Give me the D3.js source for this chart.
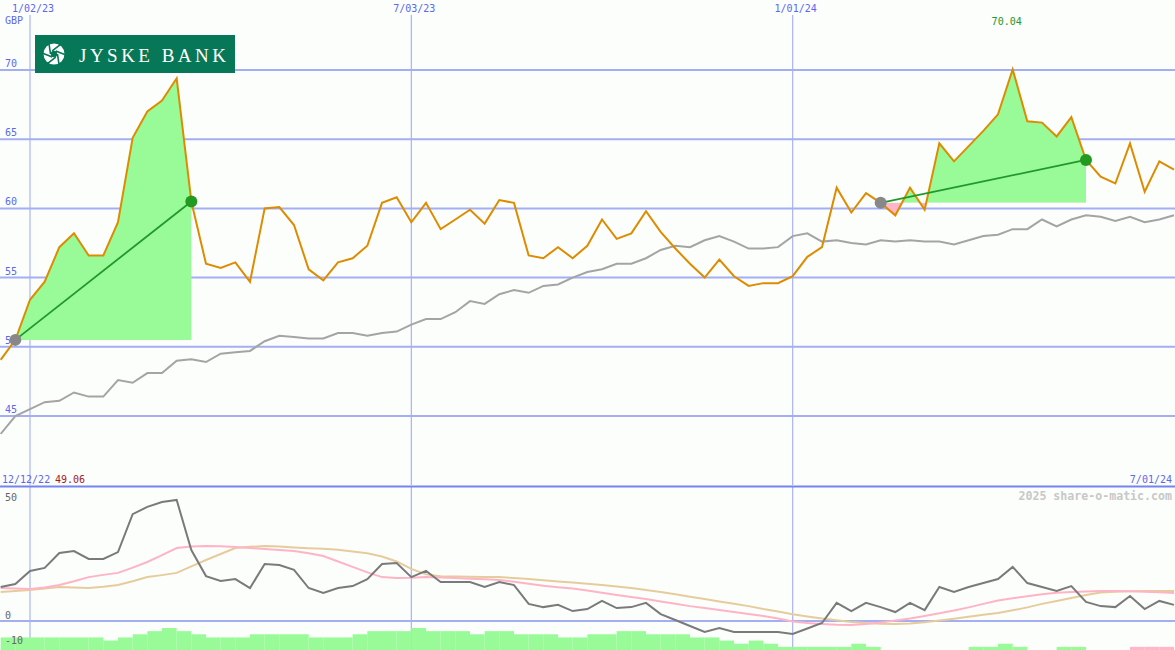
<!DOCTYPE html>
<html><head><meta charset="utf-8">
<script src="https://cdn.jsdelivr.net/npm/d3@7"></script>
<style>body{margin:0;background:#fcfefc;} svg{display:block}</style>
</head><body>
<svg id="c" width="1175" height="650"></svg>
<script>
// ---- data (weekly, from 19 Dec 2022 to 1 Jul 2024) ----
const startDate = Date.UTC(2022, 11, 19);
const endDate = Date.UTC(2024, 6, 2);
const closes = [49.06,50.5,53.4,54.7,57.2,58.2,56.6,56.6,59.0,65.1,67.0,67.8,69.4,60.5,56.0,55.7,56.1,54.7,60.0,60.1,
  58.8,55.6,54.8,56.1,56.4,57.3,60.4,60.8,59.0,60.4,58.5,59.2,59.9,58.9,60.6,60.4,56.6,56.4,57.2,56.4,
  57.3,59.2,57.8,58.2,59.8,58.3,57.1,56.0,55.0,56.3,55.1,54.4,54.6,54.6,55.1,56.5,57.2,61.5,59.7,61.1,
  60.4,59.5,61.5,59.9,64.7,63.4,64.5,65.6,66.8,70.04,66.3,66.2,65.2,66.6,63.5,62.3,61.8,64.7,61.2,63.4,62.8];
const movingAvg = [43.7,45.0,45.5,46.0,46.1,46.7,46.4,46.4,47.6,47.4,48.1,48.1,49.0,49.1,48.9,49.5,49.6,49.7,50.4,50.8,
  50.7,50.6,50.6,51.0,51.0,50.8,51.0,51.1,51.6,52.0,52.0,52.5,53.3,53.1,53.8,54.1,53.9,54.4,54.5,55.0,
  55.4,55.6,56.0,56.0,56.4,57.0,57.3,57.2,57.7,58.0,57.6,57.1,57.1,57.2,58.0,58.2,57.6,57.7,57.5,57.4,
  57.7,57.6,57.7,57.6,57.6,57.4,57.7,58.0,58.1,58.5,58.5,59.2,58.7,59.2,59.5,59.4,59.1,59.4,59.0,59.2,59.5];
const oscMain = [13.7,14.9,20.2,21.4,27.4,28.2,25.0,25.0,27.8,43.1,46.0,48.0,48.8,28.6,18.1,16.1,16.9,13.3,23.0,22.6,
  20.6,13.3,11.3,13.3,14.1,16.9,23.0,23.4,17.7,20.2,15.7,15.7,15.7,13.7,15.7,14.5,6.9,5.6,6.5,4.0,
  4.8,8.1,5.2,5.6,7.3,2.8,0.4,-2.0,-4.4,-2.8,-4.4,-4.4,-4.4,-4.4,-5.2,-3.0,-0.8,7.3,4.0,7.3,
  5.6,3.6,7.3,4.4,13.7,11.7,13.7,15.3,16.9,21.8,15.3,13.7,12.1,14.1,7.7,6.0,5.6,10.1,4.8,8.1,6.5];
const oscPink = [13.3,13.1,12.9,13.5,14.5,16.0,17.7,18.6,19.4,21.5,23.8,26.6,29.4,30.0,30.2,30.1,29.8,29.4,29.0,28.6,
  28.2,27.3,26.2,24.0,21.8,19.6,17.7,17.3,17.4,17.7,17.5,17.3,17.0,16.8,16.5,15.8,15.0,14.2,13.6,13.1,
  12.3,11.4,10.5,9.7,8.9,7.9,7.0,6.0,5.2,4.4,3.6,2.8,2.0,1.0,-0.2,-0.8,-1.2,-1.5,-1.6,-1.2,
  -0.6,0.2,1.0,2.0,3.1,4.2,5.5,6.9,8.3,9.2,10.0,10.8,11.4,11.7,11.9,12.1,12.1,12.0,11.8,11.6,11.3];
const oscTan = [11.7,12.1,12.5,13.1,13.7,13.5,13.3,13.8,14.5,16.0,17.7,18.5,19.4,22.0,24.6,27.0,29.4,29.9,30.2,30.0,
  29.6,29.3,29.1,28.7,28.0,27.3,26.0,24.0,21.0,18.8,18.0,17.9,17.8,17.7,17.7,17.3,16.9,16.4,15.9,15.5,
  15.0,14.5,13.9,13.3,12.5,11.7,10.8,9.8,8.9,7.9,7.0,6.0,4.8,3.8,2.7,1.8,1.0,0.3,-0.4,-0.8,
  -1.1,-1.2,-1.0,-0.5,0.2,0.9,1.7,2.5,3.2,4.3,5.5,6.9,8.1,9.3,10.5,11.5,11.8,12.0,12.1,12.1,12.1];
// histogram per week (sign: + green, - pink)
const histVals = [4,4,4,4,4,4,4,3,4,5,6,7,6,5,4,4,4,5,5,5,
  5,4,4,4,5,6,6,6,7,6,6,6,5,6,6,5,5,5,4,4,
  5,5,6,6,5,5,5,4,4,3,2,3,2,1,1,1,1,1,2,1,
  0,0,0,0,0,0,1,1,2,1,0,0,1,1,0,0,0,-1,-1,-1];
const periods = [[1,13],[60,74]];
const topTicks = [{d:Date.UTC(2023,0,2), label:"1/02/23"},{d:Date.UTC(2023,6,3), label:"7/03/23"},{d:Date.UTC(2024,0,1), label:"1/01/24"}];
const priceTicks = [45,50,55,60,65,70];
const oscTicks = [50,0,-10];
const startLabel = "12/12/22", endLabel = "7/01/24", firstClose = "49.06", peakLabel = "70.04";

// ---- chart ----
const dates = d3.utcMonday.range(startDate, endDate);
const W = 1175, H = 650;
const svg = d3.select("#c");
svg.append("rect").attr("width",W).attr("height",H).attr("fill","#fcfefc");

const x = d3.scaleUtc().domain([Date.UTC(2023,0,2), Date.UTC(2024,6,1)]).range([30, 1174]);
const y = d3.scaleLinear().domain([45,70]).range([416,70]);
const yl = d3.scaleLinear().domain([0,50]).range([621,497]);
const yh = d3.scaleLinear().domain([0,7]).range([650,628]);

const blue = "#5b68ee", grid = "#a4aef2", vgrid = "#aab3f3";
const mono = "DejaVu Sans Mono, monospace";

// vertical grid lines
topTicks.forEach(t => {
  svg.append("line").attr("x1",x(t.d)).attr("x2",x(t.d)).attr("y1",15).attr("y2",485)
    .attr("stroke",vgrid).attr("stroke-width",1.2);
  svg.append("line").attr("x1",x(t.d)).attr("x2",x(t.d)).attr("y1",487).attr("y2",650)
    .attr("stroke",vgrid).attr("stroke-width",1.2);
  svg.append("text").attr("x",x(t.d)+3).attr("y",12).attr("text-anchor","middle")
    .attr("font-family",mono).attr("font-size",10).attr("fill",blue).text(t.label);
});
// horizontal grid
priceTicks.forEach(v => {
  svg.append("line").attr("x1",0).attr("x2",W).attr("y1",y(v)).attr("y2",y(v))
    .attr("stroke",grid).attr("stroke-width",2);
  svg.append("text").attr("x",5).attr("y",y(v)-3).attr("font-family",mono).attr("font-size",10)
    .attr("fill",blue).text(v);
});
svg.append("text").attr("x",5).attr("y",24).attr("font-family",mono).attr("font-size",10).attr("fill",blue).text("GBP");

// divider
svg.append("line").attr("x1",0).attr("x2",W).attr("y1",486.5).attr("y2",486.5).attr("stroke","#7584ee").attr("stroke-width",2);
svg.append("text").attr("x",2).attr("y",483).attr("font-family",mono).attr("font-size",10).attr("fill",blue).text(startLabel);
svg.append("text").attr("x",55).attr("y",483).attr("font-family",mono).attr("font-size",10).attr("fill","#aa1818").text(firstClose);
svg.append("text").attr("x",1172).attr("y",483).attr("text-anchor","end").attr("font-family",mono).attr("font-size",10).attr("fill",blue).text(endLabel);
svg.append("text").attr("x",1172).attr("y",500).attr("text-anchor","end").attr("font-family",mono).attr("font-size",11.6)
  .attr("font-weight","bold").attr("fill","#c8c8c8").text("2025 share-o-matic.com");

// period fills
periods.forEach((p, k) => {
  const [a,b] = p;
  const base = y(closes[a]);
  const idx = d3.range(a, b+1);
  const area = d3.area().x(i => x(dates[i])).y0(base).y1(i => y(closes[i]));
  const ca = "ca"+k, cb = "cb"+k;
  const defs = svg.append("defs");
  defs.append("clipPath").attr("id",ca).append("rect").attr("x",0).attr("y",0).attr("width",W).attr("height",base);
  defs.append("clipPath").attr("id",cb).append("rect").attr("x",0).attr("y",base).attr("width",W).attr("height",H-base);
  svg.append("path").attr("d",area(idx)).attr("fill","#98fb98").attr("clip-path",`url(#${ca})`);
  svg.append("path").attr("d",area(idx)).attr("fill","#ffb6c8").attr("clip-path",`url(#${cb})`);
});

// moving average
const line = d3.line().x((d,i) => x(dates[i])).y(d => y(d));
svg.append("path").attr("d",line(movingAvg)).attr("fill","none").attr("stroke","#a4a4a4").attr("stroke-width",2);
// price
svg.append("path").attr("d",line(closes)).attr("fill","none").attr("stroke","#dd8c00").attr("stroke-width",2);

// trend lines and markers
periods.forEach(p => {
  const [a,b] = p;
  svg.append("line").attr("x1",x(dates[a])).attr("y1",y(closes[a])).attr("x2",x(dates[b])).attr("y2",y(closes[b]))
    .attr("stroke","#22982a").attr("stroke-width",1.8);
  svg.append("circle").attr("cx",x(dates[a])).attr("cy",y(closes[a])).attr("r",6).attr("fill","#888888");
  svg.append("circle").attr("cx",x(dates[b])).attr("cy",y(closes[b])).attr("r",6).attr("fill","#229a22");
});
// peak label
const peakI = closes.indexOf(d3.max(closes));
svg.append("text").attr("x",x(dates[peakI])-6).attr("y",25).attr("text-anchor","middle").attr("font-family",mono)
  .attr("font-size",10).attr("fill","#22982a").text(peakLabel);

// logo
const logo = svg.append("g");
logo.append("rect").attr("x",35).attr("y",35).attr("width",200).attr("height",38).attr("fill","#067857");
logo.append("circle").attr("cx",54).attr("cy",54).attr("r",10.5).attr("fill","#ffffff");
for (let k = 0; k < 6; k++) {
  const ang = k*Math.PI/3;
  const x1 = 54 + 3.5*Math.cos(ang), y1 = 54 + 3.5*Math.sin(ang);
  const ang2 = ang + Math.PI/2.2;
  logo.append("line").attr("x1",x1).attr("y1",y1).attr("x2",x1+11*Math.cos(ang2)).attr("y2",y1+11*Math.sin(ang2))
    .attr("stroke","#067857").attr("stroke-width",1.6);
}
logo.append("circle").attr("cx",54).attr("cy",54).attr("r",3.2).attr("fill","#067857");
logo.append("text").attr("x",79).attr("y",61.5).attr("font-family","Liberation Serif, serif").attr("font-size",19)
  .attr("fill","#ffffff").attr("textLength",147).attr("lengthAdjust","spacing").text("JYSKE BANK");

// ---- lower panel ----
svg.append("line").attr("x1",0).attr("x2",W).attr("y1",yl(0)).attr("y2",yl(0)).attr("stroke",grid).attr("stroke-width",2);
histVals.forEach((h,i) => {
  if (!h) return;
  const x0 = x(dates[i]), x1 = i+1 < dates.length ? x(dates[i+1]) : W;
  svg.append("rect").attr("x",x0).attr("width",x1-x0).attr("y",yh(Math.abs(h))).attr("height",H-yh(Math.abs(h)))
    .attr("fill", h > 0 ? "#98fb98" : "#ffb6c8");
});
oscTicks.forEach(v => {
  svg.append("text").attr("x",5).attr("y",v === 50 ? yl(v)+3.5 : yl(v)-2).attr("font-family",mono).attr("font-size",10)
    .attr("fill","#666666").text(v);
});
const lline = d3.line().x((d,i) => x(dates[i])).y(d => yl(d));
svg.append("path").attr("d",lline(oscTan)).attr("fill","none").attr("stroke","#e6cc9c").attr("stroke-width",2);
svg.append("path").attr("d",lline(oscPink)).attr("fill","none").attr("stroke","#ffb4c6").attr("stroke-width",2);
svg.append("path").attr("d",lline(oscMain)).attr("fill","none").attr("stroke","#7a7a7a").attr("stroke-width",2);
</script>
</body></html>
